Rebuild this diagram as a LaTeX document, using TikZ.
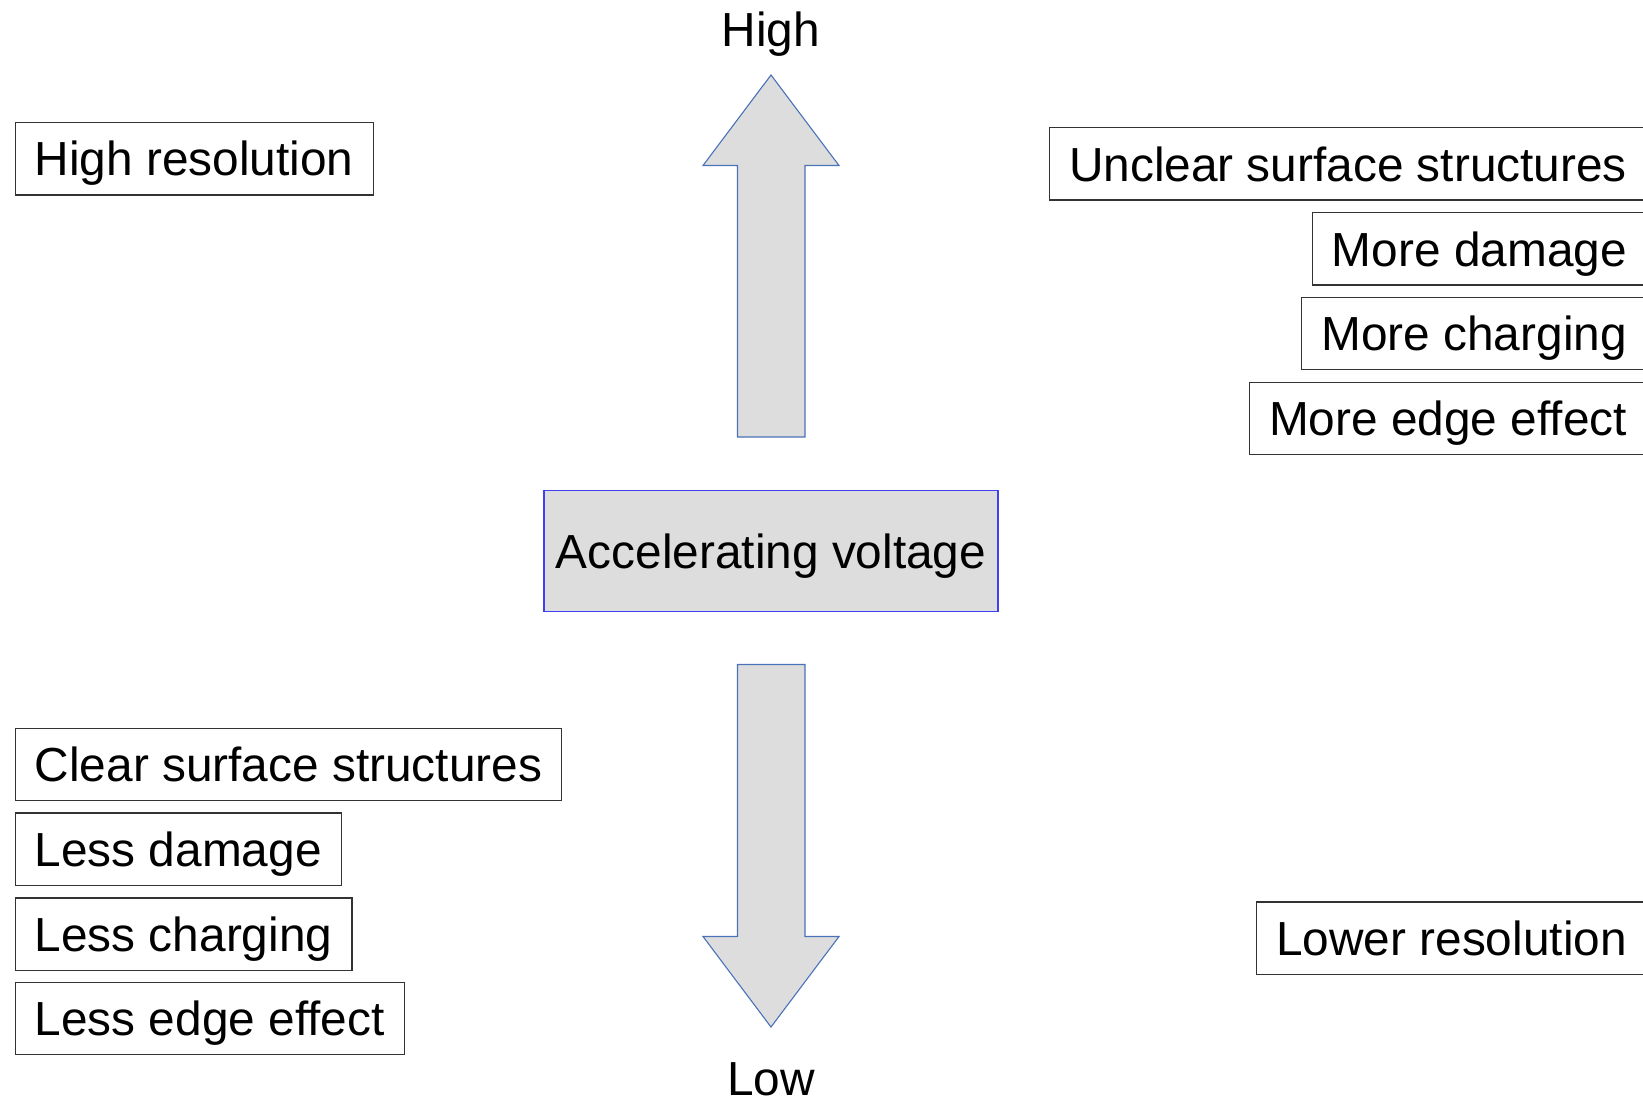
\documentclass[tikz,border=0pt]{standalone}
\usepackage{fontspec}
\setmainfont{Liberation Sans}
\definecolor{boxgray}{HTML}{DDDDDD}
\definecolor{arrowblue}{HTML}{4A72B8}
\definecolor{boxblue}{HTML}{4040F0}
\definecolor{frame}{HTML}{333333}
\tikzset{
  lbl/.style={font=\fontsize{47.8}{57}\selectfont, text height=34.2pt, text depth=0pt, inner sep=0pt},
  effbox/.style={lbl, draw=frame, line width=1.2pt, minimum height=72.3pt, inner xsep=19.5pt},
  bigarrow/.style={fill=boxgray, draw=arrowblue, line width=1.1pt, line join=miter},
}
\begin{document}
\begin{tikzpicture}[x=1pt,y=-1pt]
\useasboundingbox (0,0) rectangle (1643,1101);
% labels
\node[lbl] (high) at (771,29) {High};
\node[lbl] (low) at (771,1078) {Low};
% centre box
\node[lbl, draw=boxblue, fill=boxgray, line width=1.1pt, minimum width=454pt, minimum height=121pt] (acc) at (771,551.2) {Accelerating voltage};
% up arrow
\path[bigarrow] (737.5,437) -- (737.5,165.5) -- (703,165.5) -- (771,75) -- (839,165.5) -- (805,165.5) -- (805,437) -- cycle;
% down arrow
\path[bigarrow] (737.5,664.5) -- (737.5,936.5) -- (703,936.5) -- (771,1027) -- (839,936.5) -- (805,936.5) -- (805,664.5) -- cycle;
% left boxes
\node[effbox, anchor=west] (hres) at (14.7,158.8) {High resolution};
\node[effbox, anchor=west] (clear) at (14.7,764.4) {Clear surface structures};
\node[effbox, anchor=west] (ldam) at (14.7,849.2) {Less damage};
\node[effbox, anchor=west] (lchg) at (14.7,934.1) {Less charging};
\node[effbox, anchor=west] (ledge) at (14.7,1018.5) {Less edge effect};
% right boxes
\node[effbox, anchor=east] (unclear) at (1647,163.9) {Unclear surface structures};
\node[effbox, anchor=east] (mdam) at (1647,248.9) {More damage};
\node[effbox, anchor=east] (mchg) at (1647,333.7) {More charging};
\node[effbox, anchor=east] (medge) at (1647,418.3) {More edge effect};
\node[effbox, anchor=east] (lres) at (1647,938.2) {Lower resolution};
\end{tikzpicture}
\end{document}
